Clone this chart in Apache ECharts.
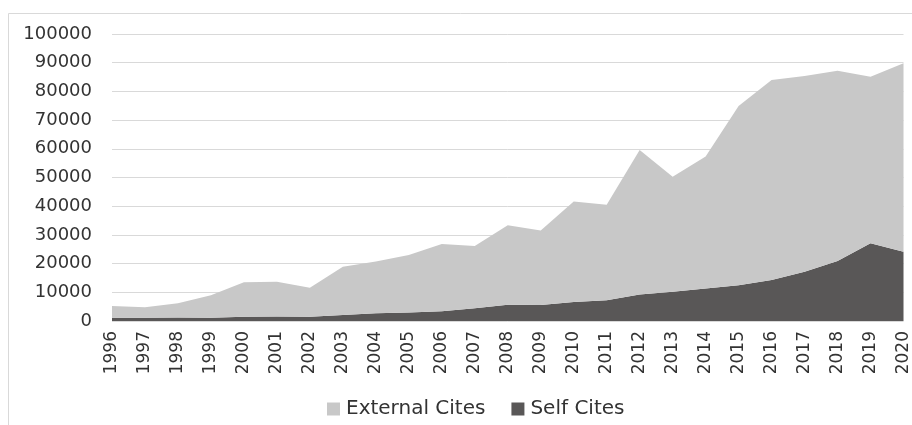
<!DOCTYPE html>
<html>
<head>
<meta charset="utf-8">
<script src="https://cdn.jsdelivr.net/npm/echarts@6/dist/echarts.min.js"></script>
<style>
  html, body { margin: 0; padding: 0; background: #ffffff; }
  #chart { width: 912px; height: 425px; }
</style>
</head>
<body>
<div id="chart"></div>
<script>
// Citation counts per year
const years = ['1996','1997','1998','1999','2000','2001','2002','2003','2004','2005','2006','2007','2008',
  '2009','2010','2011','2012','2013','2014','2015','2016','2017','2018','2019','2020'];
const selfCites = [1100, 1100, 1200, 1100, 1500, 1600, 1500, 2100, 2700, 3000, 3400, 4400, 5700,
  5600, 6600, 7200, 9200, 10200, 11300, 12500, 14300, 17200, 20900, 27100, 24100];
const externalCites = [4100, 3700, 5000, 7900, 12000, 12100, 10100, 16800, 18000, 20000, 23400, 21700, 27700,
  25900, 35000, 33300, 50400, 40100, 46000, 62400, 69700, 68200, 66300, 58000, 65700];
const yTicks = [0, 10000, 20000, 30000, 40000, 50000, 60000, 70000, 80000, 90000, 100000];

const textColor = '#333333';
const font = "'DejaVu Sans', Verdana, sans-serif";

const chart = echarts.init(document.getElementById('chart'), null, { renderer: 'canvas' });
chart.setOption({
  animation: false,
  backgroundColor: '#ffffff',
  graphic: [{
    type: 'rect',
    shape: { x: 8.5, y: 13.5, width: 910, height: 420 },
    style: { fill: 'none', stroke: '#d9d9d9', lineWidth: 1 },
    silent: true
  }],
  grid: { left: 112, right: 7, top: 34, bottom: 104 },
  legend: {
    left: 322,
    top: 394,
    itemWidth: 13,
    itemHeight: 13,
    itemGap: 26,
    icon: 'rect',
    data: ['External Cites', 'Self Cites'],
    textStyle: { fontFamily: font, fontSize: 20, color: textColor, padding: [0, 0, 0, 1] }
  },
  xAxis: {
    type: 'category',
    data: years,
    boundaryGap: false,
    axisLine: { show: false },
    axisTick: { show: false },
    axisLabel: {
      rotate: 90,
      margin: 10,
      fontFamily: font,
      fontSize: 17,
      color: textColor,
      interval: 0
    },
    splitLine: { show: false }
  },
  yAxis: {
    type: 'value',
    min: yTicks[0],
    max: yTicks[yTicks.length - 1],
    interval: 10000,
    axisLine: { show: false },
    axisTick: { show: false },
    axisLabel: {
      margin: 20,
      fontFamily: font,
      fontSize: 18,
      color: textColor,
      formatter: (v) => String(v)
    },
    splitLine: { lineStyle: { color: '#d9d9d9', width: 1 } }
  },
  series: [
    {
      name: 'Self Cites',
      type: 'line',
      stack: 'cites',
      data: selfCites,
      symbol: 'none',
      lineStyle: { width: 0 },
      itemStyle: { color: '#595757' },
      areaStyle: { color: '#595757', opacity: 1 }
    },
    {
      name: 'External Cites',
      type: 'line',
      stack: 'cites',
      data: externalCites,
      symbol: 'none',
      lineStyle: { width: 0 },
      itemStyle: { color: '#c8c8c8' },
      areaStyle: { color: '#c8c8c8', opacity: 1 }
    }
  ]
});
</script>
</body>
</html>
